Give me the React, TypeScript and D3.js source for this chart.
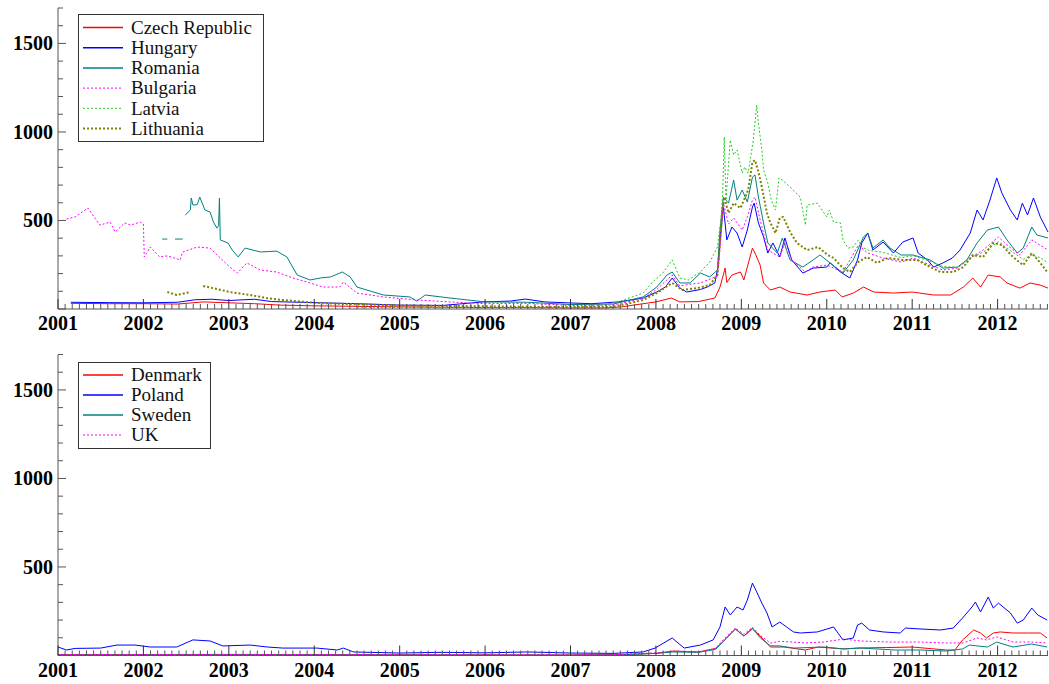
import React from "react";
import * as d3 from "d3";

type Pt = [number, number | null];

// ---------- DATA (decimal year, spread in bp) ----------
const czech: Pt[] = [[2001.15,32],[2001.6,30],[2002.0,30],[2002.4,28],[2002.7,40],[2003.0,35],[2003.3,30],[2003.6,22],[2004.0,18],[2004.5,15],[2005.0,12],[2005.5,10],[2006.0,8],[2006.5,8],[2007.0,6],[2007.4,6],[2007.6,12],[2007.85,30],[2008.0,40],[2008.18,62],[2008.28,40],[2008.5,42],[2008.69,62],[2008.75,124],[2008.81,231],[2008.83,150],[2008.89,192],[2008.99,209],[2009.03,164],[2009.07,237],[2009.13,344],[2009.16,316],[2009.22,248],[2009.26,147],[2009.34,107],[2009.45,124],[2009.57,96],[2009.77,79],[2009.92,96],[2010.10,107],[2010.18,68],[2010.31,90],[2010.43,124],[2010.55,96],[2010.78,90],[2011.0,96],[2011.25,79],[2011.45,79],[2011.60,124],[2011.71,175],[2011.80,124],[2011.89,192],[2012.03,181],[2012.11,147],[2012.26,118],[2012.38,147],[2012.50,135],[2012.59,118]];
const hungary: Pt[] = [[2001.15,38],[2001.6,36],[2002.0,35],[2002.4,38],[2002.6,52],[2002.8,55],[2003.0,48],[2003.3,55],[2003.5,42],[2004.0,36],[2004.5,30],[2005.0,22],[2005.5,20],[2005.98,40],[2006.3,45],[2006.47,56],[2006.7,40],[2007.0,34],[2007.25,30],[2007.56,40],[2007.85,62],[2008.01,96],[2008.11,124],[2008.19,175],[2008.28,118],[2008.36,96],[2008.52,110],[2008.60,124],[2008.69,147],[2008.73,248],[2008.76,446],[2008.79,576],[2008.83,390],[2008.89,463],[2008.95,429],[2009.01,350],[2009.07,446],[2009.13,576],[2009.15,598],[2009.20,486],[2009.26,407],[2009.31,316],[2009.37,373],[2009.45,294],[2009.51,401],[2009.59,277],[2009.72,203],[2009.84,231],[2010.0,237],[2010.04,260],[2010.16,209],[2010.27,175],[2010.36,277],[2010.41,373],[2010.48,429],[2010.54,333],[2010.66,378],[2010.78,316],[2010.89,378],[2011.01,401],[2011.07,316],[2011.18,277],[2011.25,237],[2011.36,260],[2011.47,288],[2011.56,333],[2011.68,429],[2011.76,559],[2011.83,503],[2011.91,615],[2011.99,740],[2012.05,655],[2012.15,559],[2012.23,503],[2012.29,598],[2012.35,531],[2012.42,627],[2012.50,520],[2012.59,435]];
const romania: Pt[] = [[2002.22,395],[2002.28,395],[2002.32,null],[2002.37,395],[2002.46,395],[2002.47,null],[2002.49,531],[2002.55,559],[2002.56,627],[2002.58,587],[2002.63,590],[2002.66,632],[2002.72,559],[2002.78,548],[2002.82,491],[2002.86,457],[2002.88,470],[2002.89,627],[2002.90,390],[2002.99,373],[2003.04,333],[2003.11,294],[2003.19,344],[2003.37,322],[2003.56,327],[2003.68,294],[2003.80,192],[2003.95,164],[2004.07,175],[2004.19,181],[2004.33,209],[2004.42,181],[2004.50,124],[2004.81,79],[2005.12,68],[2005.20,45],[2005.30,79],[2005.59,62],[2006.0,40],[2006.5,38],[2007.0,25],[2007.5,28],[2007.85,68],[2008.01,124],[2008.13,192],[2008.19,209],[2008.28,147],[2008.40,147],[2008.52,203],[2008.63,181],[2008.72,220],[2008.75,446],[2008.79,632],[2008.85,598],[2008.91,728],[2008.95,615],[2009.01,672],[2009.07,604],[2009.13,745],[2009.16,757],[2009.20,632],[2009.26,486],[2009.31,373],[2009.42,316],[2009.48,401],[2009.57,277],[2009.72,237],[2009.84,277],[2009.92,305],[2010.04,260],[2010.19,203],[2010.31,277],[2010.43,407],[2010.48,429],[2010.54,344],[2010.66,390],[2010.74,344],[2010.87,305],[2011.01,305],[2011.21,277],[2011.36,231],[2011.53,237],[2011.64,277],[2011.76,373],[2011.88,446],[2012.01,463],[2012.11,390],[2012.23,316],[2012.30,344],[2012.40,463],[2012.46,418],[2012.59,401]];
const bulgaria: Pt[] = [[2001.10,508],[2001.2,520],[2001.35,570],[2001.49,474],[2001.61,491],[2001.67,435],[2001.78,486],[2001.85,474],[2001.96,491],[2002.0,480],[2002.01,294],[2002.08,350],[2002.19,294],[2002.28,300],[2002.43,277],[2002.46,322],[2002.63,350],[2002.78,344],[2002.84,316],[2003.01,237],[2003.10,203],[2003.21,260],[2003.37,220],[2003.56,209],[2003.75,175],[2003.92,152],[2004.10,124],[2004.30,124],[2004.34,152],[2004.50,90],[2004.81,68],[2005.20,51],[2005.59,40],[2006.0,30],[2006.5,32],[2007.0,20],[2007.5,22],[2007.85,60],[2008.01,110],[2008.19,192],[2008.28,130],[2008.40,140],[2008.52,147],[2008.72,186],[2008.76,400],[2008.79,598],[2008.85,480],[2008.91,514],[2009.01,446],[2009.07,520],[2009.13,615],[2009.16,632],[2009.22,503],[2009.31,333],[2009.45,294],[2009.51,378],[2009.59,277],[2009.75,209],[2009.84,237],[2010.0,248],[2010.19,209],[2010.37,361],[2010.48,316],[2010.66,288],[2010.87,265],[2011.01,288],[2011.21,248],[2011.36,220],[2011.53,231],[2011.68,288],[2011.83,333],[2012.01,407],[2012.11,361],[2012.26,305],[2012.40,390],[2012.59,333]];
const latvia: Pt[] = [[2004.5,10],[2005.5,8],[2006.5,8],[2007.3,15],[2007.56,40],[2007.85,90],[2007.96,152],[2008.08,203],[2008.19,277],[2008.28,175],[2008.38,164],[2008.52,209],[2008.63,265],[2008.72,350],[2008.76,500],[2008.78,632],[2008.80,971],[2008.82,615],[2008.87,954],[2008.91,870],[2008.95,898],[2009.01,768],[2009.04,802],[2009.08,768],[2009.14,954],[2009.18,1152],[2009.20,1050],[2009.24,898],[2009.26,785],[2009.31,711],[2009.35,615],[2009.40,559],[2009.44,740],[2009.48,728],[2009.57,689],[2009.69,632],[2009.75,474],[2009.77,587],[2009.89,598],[2010.0,520],[2010.03,559],[2010.08,491],[2010.16,486],[2010.19,390],[2010.25,344],[2010.31,350],[2010.37,390],[2010.41,350],[2010.5,330],[2010.66,320],[2010.87,290],[2011.01,300],[2011.21,270],[2011.36,240],[2011.53,235],[2011.68,290],[2011.83,320],[2012.01,380],[2012.15,330],[2012.30,280],[2012.40,305],[2012.50,290],[2012.59,260]];
const lithuania: Pt[] = [[2002.28,96],[2002.39,79],[2002.55,96],[2002.62,null],[2002.70,130],[2002.86,113],[2003.01,96],[2003.25,79],[2003.44,62],[2003.63,51],[2004.03,34],[2004.42,28],[2005.0,20],[2006.0,15],[2007.0,10],[2007.5,12],[2007.85,51],[2008.01,90],[2008.19,147],[2008.31,107],[2008.48,118],[2008.63,135],[2008.72,192],[2008.78,559],[2008.80,632],[2008.85,542],[2008.91,598],[2008.99,570],[2009.03,615],[2009.08,672],[2009.13,830],[2009.16,841],[2009.20,774],[2009.24,689],[2009.30,542],[2009.34,486],[2009.40,429],[2009.45,514],[2009.49,520],[2009.57,435],[2009.65,373],[2009.77,333],[2009.90,350],[2010.01,305],[2010.08,288],[2010.19,231],[2010.27,209],[2010.37,265],[2010.47,294],[2010.59,260],[2010.71,288],[2010.89,277],[2011.06,277],[2011.21,237],[2011.33,209],[2011.48,209],[2011.60,237],[2011.71,305],[2011.83,294],[2011.95,373],[2012.05,361],[2012.18,294],[2012.30,248],[2012.40,316],[2012.50,260],[2012.59,203]];

const denmark: Pt[] = [[2001.0,5],[2003.0,6],[2005.0,4],[2007.0,3],[2007.6,5],[2008.0,12],[2008.2,25],[2008.5,20],[2008.7,40],[2008.79,80],[2008.93,150],[2009.03,110],[2009.13,150],[2009.22,110],[2009.34,48],[2009.5,48],[2009.75,31],[2009.90,48],[2010.2,37],[2010.35,42],[2010.7,45],[2011.0,48],[2011.4,31],[2011.5,31],[2011.59,88],[2011.72,144],[2011.80,127],[2011.87,99],[2011.95,127],[2012.03,133],[2012.18,127],[2012.35,127],[2012.5,127],[2012.58,99]];
const poland: Pt[] = [[2001.0,48],[2001.1,31],[2001.2,40],[2001.5,42],[2001.69,59],[2001.9,59],[2002.08,48],[2002.39,48],[2002.58,88],[2002.78,82],[2002.93,54],[2003.25,59],[2003.45,48],[2003.63,42],[2004.03,42],[2004.27,31],[2004.34,42],[2004.46,20],[2005.0,14],[2005.5,18],[2006.0,15],[2006.5,20],[2007.0,14],[2007.5,12],[2007.85,20],[2007.99,42],[2008.19,99],[2008.33,42],[2008.52,59],[2008.67,88],[2008.75,161],[2008.81,274],[2008.87,229],[2008.95,274],[2009.02,257],[2009.07,313],[2009.13,409],[2009.18,359],[2009.24,296],[2009.30,240],[2009.36,161],[2009.45,189],[2009.53,161],[2009.61,133],[2009.69,127],[2009.89,133],[2010.08,161],[2010.19,88],[2010.31,99],[2010.36,172],[2010.41,183],[2010.50,144],[2010.66,133],[2010.86,127],[2010.92,155],[2011.09,150],[2011.33,144],[2011.48,155],[2011.59,212],[2011.70,274],[2011.74,302],[2011.80,246],[2011.89,330],[2011.95,268],[2012.01,296],[2012.15,240],[2012.23,183],[2012.30,200],[2012.40,268],[2012.47,229],[2012.58,200]];
const sweden: Pt[] = [[2001.0,3],[2003.0,4],[2005.0,3],[2007.0,2],[2007.6,4],[2008.0,12],[2008.2,20],[2008.5,18],[2008.7,35],[2008.79,80],[2008.93,150],[2009.03,110],[2009.13,155],[2009.22,100],[2009.34,55],[2009.45,54],[2009.61,42],[2009.96,48],[2010.2,37],[2010.4,42],[2010.8,31],[2011.1,31],[2011.4,25],[2011.59,37],[2011.67,59],[2011.88,48],[2011.99,76],[2012.18,48],[2012.40,65],[2012.58,48]];
const uk: Pt[] = [[2001.0,5],[2003.0,6],[2005.0,4],[2007.0,3],[2007.6,6],[2008.0,15],[2008.2,25],[2008.52,20],[2008.7,42],[2008.79,90],[2008.93,155],[2009.03,120],[2009.13,160],[2009.22,115],[2009.34,70],[2009.45,80],[2009.6,76],[2009.75,71],[2009.96,76],[2010.2,93],[2010.4,82],[2010.74,76],[2011.1,76],[2011.4,71],[2011.6,71],[2011.76,99],[2011.87,88],[2011.99,105],[2012.18,76],[2012.40,76],[2012.58,71]];

const years = [2001, 2002, 2003, 2004, 2005, 2006, 2007, 2008, 2009, 2010, 2011, 2012];
const yTickLabels = [500, 1000, 1500];

interface Series { name: string; data: Pt[]; color: string; width: number; dash?: string; }

const topSeries: Series[] = [
  { name: "Czech Republic", data: czech, color: "#ff0000", width: 1 },
  { name: "Hungary", data: hungary, color: "#0000ff", width: 1 },
  { name: "Romania", data: romania, color: "#008080", width: 1 },
  { name: "Bulgaria", data: bulgaria, color: "#ff00ff", width: 1, dash: "2,2" },
  { name: "Latvia", data: latvia, color: "#22cc22", width: 1, dash: "2,2" },
  { name: "Lithuania", data: lithuania, color: "#808000", width: 2, dash: "2,2" },
];
const bottomSeries: Series[] = [
  { name: "Denmark", data: denmark, color: "#ff0000", width: 1 },
  { name: "Poland", data: poland, color: "#0000ff", width: 1 },
  { name: "Sweden", data: sweden, color: "#008080", width: 1 },
  { name: "UK", data: uk, color: "#ff00ff", width: 1, dash: "2,2" },
];

const W = 1049, H = 684;
const FONT = "'Liberation Serif', 'Times New Roman', serif";

function Panel({ top, bottom, series, legend }: { top: number; bottom: number; series: Series[]; legend: { x: number; y: number; w: number; h: number; y0: number; step: number } }) {
  const x = d3.scaleLinear().domain([2001, 2012.59]).range([58, 1048]);
  const y = d3.scaleLinear().domain([0, 1700]).range([bottom, top]);
  const line = d3.line<Pt>().defined(d => d[1] !== null).x(d => x(d[0])).y(d => y(d[1] as number));
  const yTicks = d3.range(0, 1701, 100);
  const months: number[] = [];
  years.forEach(yr => { for (let m = 1; m < 12; m++) { const t = yr + m / 12; if (t <= 2012.59) months.push(t); } });
  const axisColor = "#555";
  return (
    <g>
      {/* series */}
      {series.map(s => (
        <path key={s.name} d={line(s.data) || ""} fill="none" stroke={s.color} strokeWidth={s.width} strokeDasharray={s.dash} strokeLinejoin="round" />
      ))}
      {/* axes */}
      <line x1={x(2001)} x2={x(2001)} y1={y(1700)} y2={y(0)} stroke={axisColor} strokeWidth={1} />
      <line x1={x(2001)} x2={1048} y1={y(0)} y2={y(0)} stroke={axisColor} strokeWidth={1} />
      {yTicks.map(v => (
        <line key={"yt" + v} x1={x(2001)} x2={x(2001) + (v % 500 === 0 ? 8 : 5)} y1={y(v)} y2={y(v)} stroke={axisColor} strokeWidth={1} />
      ))}
      {yTickLabels.map(v => (
        <text key={"yl" + v} x={53} y={y(v)} dy="0.35em" textAnchor="end" fontFamily={FONT} fontWeight="bold" fontSize={20} fill="#000">{v}</text>
      ))}
      {months.map(t => (
        <line key={"mt" + t} x1={x(t)} x2={x(t)} y1={y(0)} y2={y(0) - 5} stroke={axisColor} strokeWidth={1} />
      ))}
      {years.map(yr => (
        <g key={"yr" + yr}>
          <line x1={x(yr)} x2={x(yr)} y1={y(0)} y2={y(0) - 10} stroke="#333" strokeWidth={1} />
          <text x={x(yr)} y={y(0) + 21} textAnchor="middle" fontFamily={FONT} fontWeight="bold" fontSize={20} fill="#000">{yr}</text>
        </g>
      ))}
      {/* legend */}
      <rect x={legend.x} y={legend.y} width={legend.w} height={legend.h} fill="#fff" stroke="#333" strokeWidth={1} />
      {series.map((s, i) => {
        const ly = legend.y0 + i * legend.step;
        return (
          <g key={"lg" + s.name}>
            <line x1={83} x2={123} y1={ly} y2={ly} stroke={s.color} strokeWidth={s.dash ? Math.max(1, s.width) : 1.5} strokeDasharray={s.dash} />
            <text x={131} y={ly} dy="0.33em" fontFamily={FONT} fontSize={19} fill="#111">{s.name}</text>
          </g>
        );
      })}
    </g>
  );
}

export default function App() {
  return (
    <svg width={W} height={H} style={{ position: "absolute", left: 0, top: 0, background: "#fff" }}>
      <rect x={0} y={0} width={W} height={H} fill="#fff" />
      <Panel top={8} bottom={309} series={topSeries} legend={{ x: 78.5, y: 14.5, w: 185, h: 127, y0: 27.5, step: 20.2 }} />
      <Panel top={354.5} bottom={655.5} series={bottomSeries} legend={{ x: 78.5, y: 362.5, w: 132, h: 86, y0: 375, step: 20 }} />
    </svg>
  );
}
